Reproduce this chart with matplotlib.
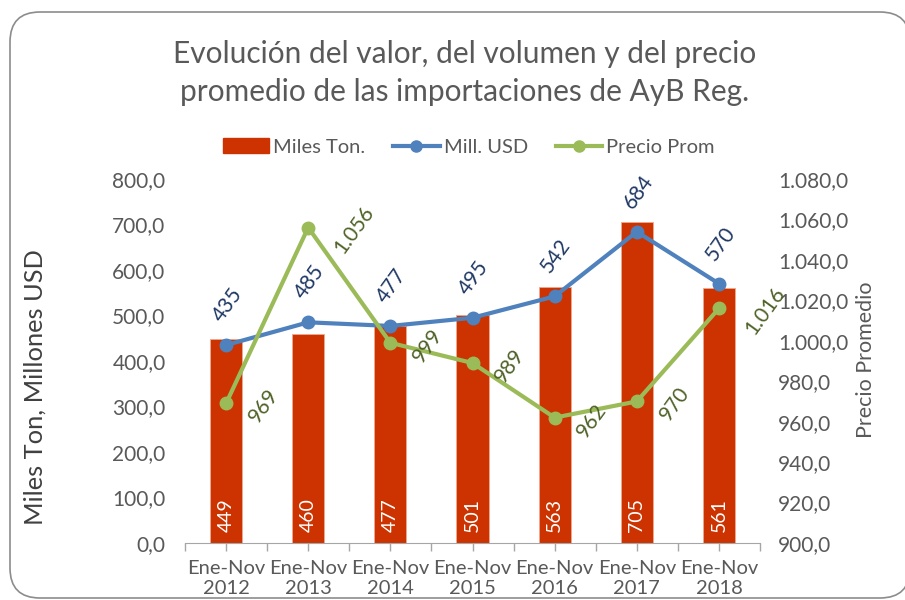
import matplotlib
matplotlib.use("Agg")
import matplotlib.pyplot as plt
from matplotlib.lines import Line2D
from matplotlib.patches import Patch, FancyBboxPatch

years = ["2012", "2013", "2014", "2015", "2016", "2017", "2018"]
miles_ton = [449, 460, 477, 501, 563, 705, 561]
mill_usd = [435, 485, 477, 495, 542, 684, 570]
precio = [969, 1056, 999, 989, 962, 970, 1016]

RED, BLUE, GREEN = "#CC3300", "#4F81BD", "#9BBB59"
NAVY, OLIVE, GREY, DARK = "#1F3864", "#4F6228", "#595959", "#404040"

plt.rcParams.update({"font.family": ["Lato", "DejaVu Sans"], "text.color": GREY})


def es_num(v, dec=1):
    s = f"{v:,.{dec}f}"
    return s.replace(",", "X").replace(".", ",").replace("X", ".")


fig = plt.figure(figsize=(9.05, 6.0), dpi=100)
fig.patch.set_facecolor("white")
# rounded chart frame (drawn in inches), kept behind the axes
frame = FancyBboxPatch((0.10, 0.02), 9.0, 5.86, boxstyle="round,pad=0,rounding_size=0.3",
                       transform=fig.dpi_scale_trans, fc="white", ec="#8c8c8c", lw=1.2, zorder=-5)
fig.patches.append(frame)

ax = fig.add_axes([0.2044, 0.095, 0.6354, 0.6067])
ax2 = ax.twinx()
ax.set_zorder(1)
ax2.set_zorder(2)
ax.patch.set_visible(False)
ax2.patch.set_visible(False)

x = list(range(len(years)))
ax.bar(x, miles_ton, width=0.39, color=RED, edgecolor="#EDA98F", lw=0.6, zorder=2)
ax.plot(x, mill_usd, "-o", color=BLUE, lw=3, ms=9, zorder=3)
ax2.plot(x, precio, "-o", color=GREEN, lw=3, ms=9, zorder=3)

for i, v in enumerate(miles_ton):
    ax.annotate(str(v), (i, 0), xytext=(0, 20), textcoords="offset points", ha="center",
                va="center", rotation=90, color="white", fontsize=14, zorder=4)
for i, v in enumerate(mill_usd):
    ax.annotate(str(v), (i, v), xytext=(1, 29), textcoords="offset points", ha="center",
                va="center", rotation=54, color=NAVY, fontsize=15)
for i, v in enumerate(precio):
    lab = es_num(v, 0)
    dx = 33 if len(lab) > 3 else 27
    ax2.annotate(lab, (i, v), xytext=(dx, -2), textcoords="offset points", ha="center",
                 va="center", rotation=54, color=OLIVE, fontsize=15)

ax.set_xlim(-0.5, len(years) - 0.5)
ax.set_ylim(0, 800)
ax.set_yticks(range(0, 801, 100))
ax.set_yticklabels([es_num(v) for v in range(0, 801, 100)])
ax2.set_ylim(900, 1080)
ax2.set_yticks(range(900, 1081, 20))
ax2.set_yticklabels([es_num(v) for v in range(900, 1081, 20)])

ax.set_xticks(x)
ax.set_xticklabels([f"Ene-Nov\n{y}" for y in years], fontsize=14.5, color=GREY, linespacing=1.25)
ax.set_xticks([i - 0.5 for i in range(len(years) + 1)], minor=True)
ax.tick_params(axis="x", which="both", length=6, color="#A6A6A6", width=1, pad=6)
ax.tick_params(axis="y", length=0, pad=14, labelsize=15, labelcolor=GREY)
ax2.tick_params(axis="y", length=0, pad=13, labelsize=15, labelcolor=GREY)

for a in (ax, ax2):
    for s in ("top", "left", "right"):
        a.spines[s].set_visible(False)
ax.spines["bottom"].set_color("#A6A6A6")
ax2.spines["bottom"].set_visible(False)

fig.text(465 / 905, 1 - 73 / 600, "Evolución del valor, del volumen y del precio\npromedio de las importaciones de AyB Reg.",
         ha="center", va="center", fontsize=21.5, color=GREY, linespacing=1.4)
fig.text(35 / 905, 1 - 387 / 600, "Miles Ton, Millones USD", rotation=90, ha="center", va="center",
         fontsize=18.3, color=DARK)
fig.text(866 / 905, 1 - 360 / 600, "Precio Promedio", rotation=90, ha="center", va="center",
         fontsize=15.5, color=GREY)

handles = [Patch(color=RED),
           Line2D([], [], color=BLUE, lw=3, marker="o", ms=8),
           Line2D([], [], color=GREEN, lw=3, marker="o", ms=8)]
fig.legend(handles, ["Miles Ton.", "Mill. USD", "Precio Prom"], loc="center", ncol=3,
           bbox_to_anchor=(0.518, 1 - 147 / 600), frameon=False, fontsize=14.5,
           handlelength=2.3, handletextpad=0.2, columnspacing=1.4)

fig.savefig("out.png", dpi=100)
